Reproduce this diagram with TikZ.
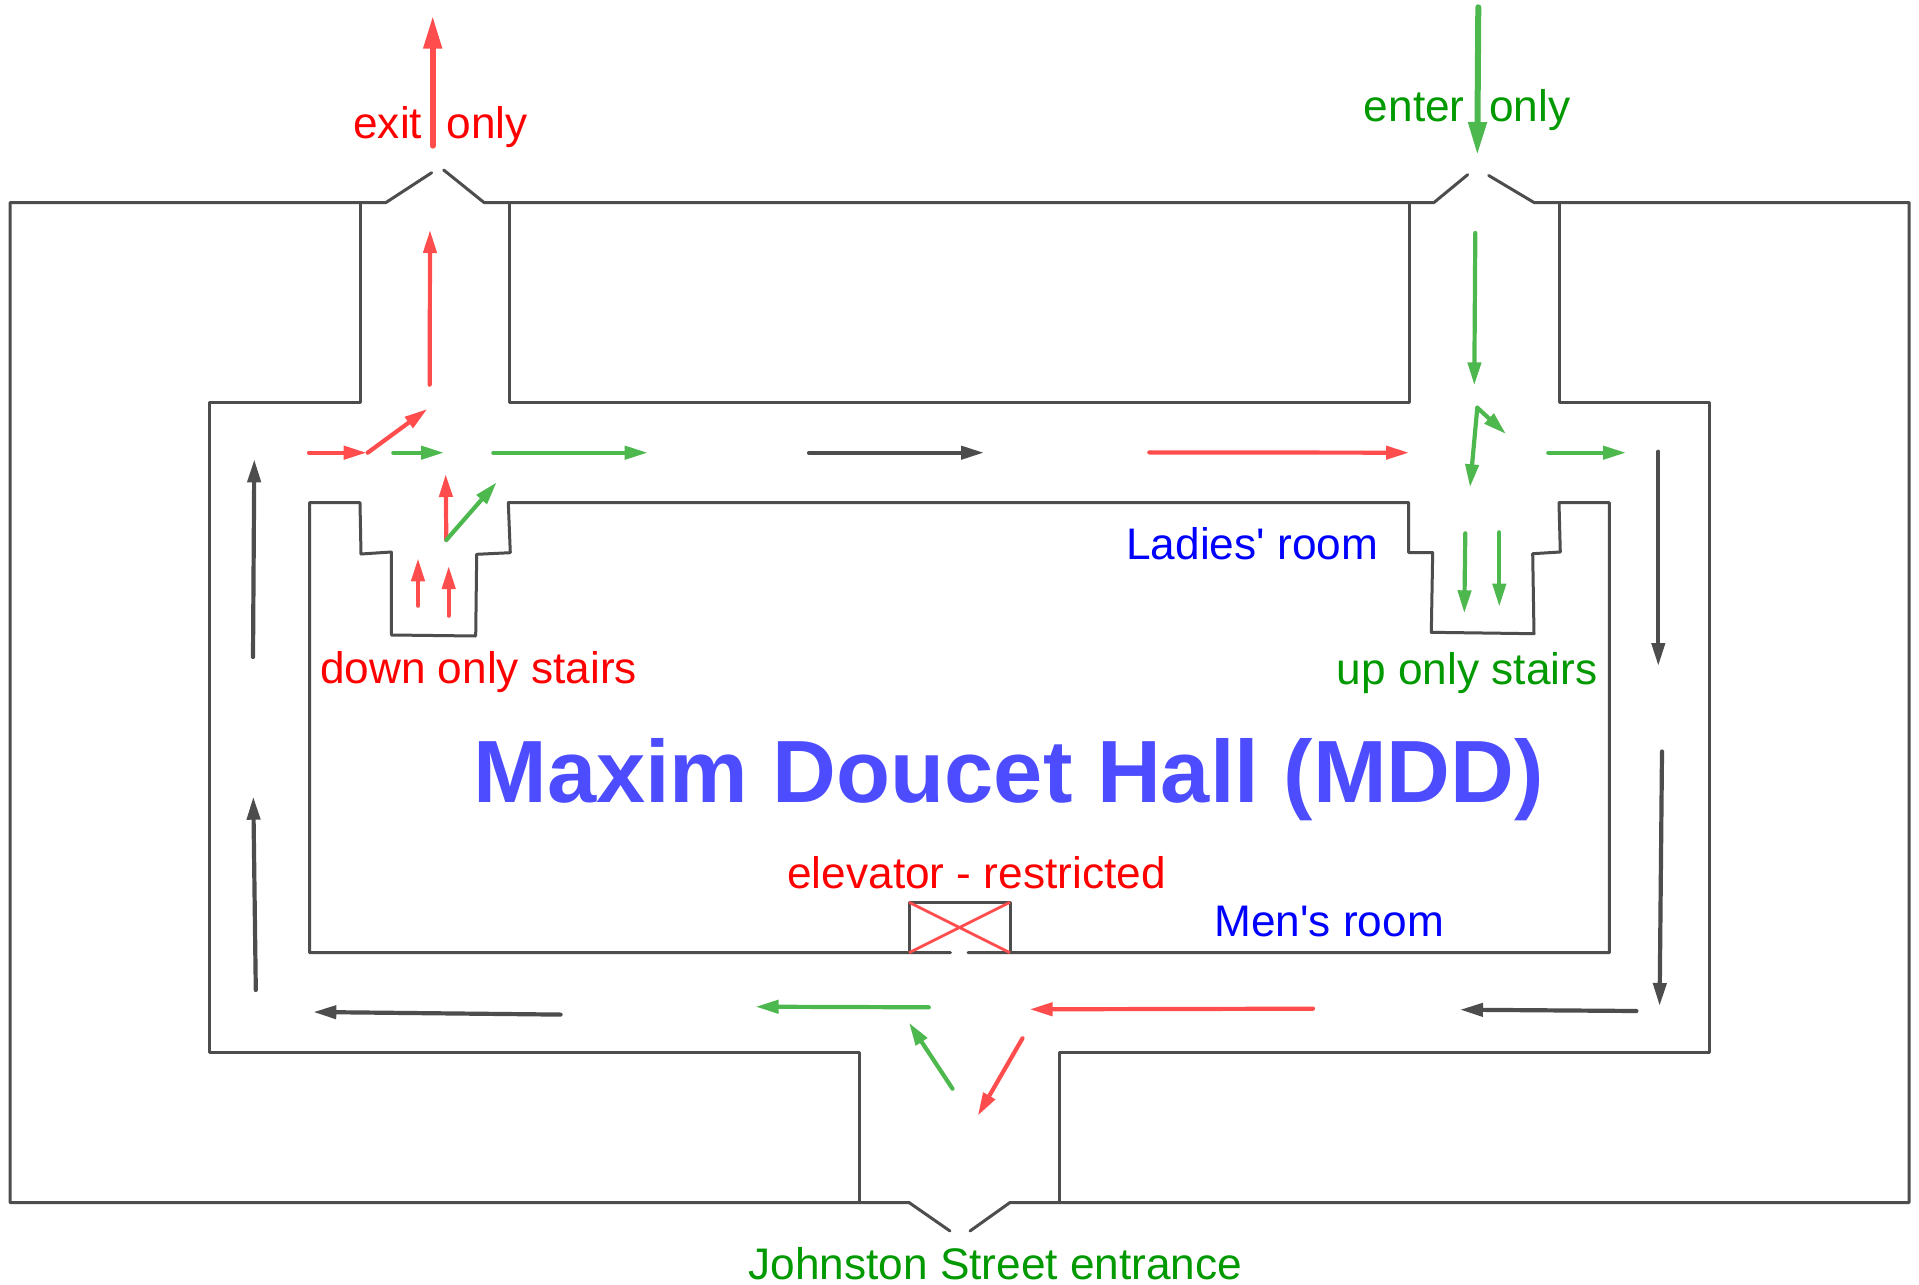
\documentclass[tikz,border=0pt]{standalone}
\usepackage{fontspec}
\setmainfont{Liberation Sans}
\usetikzlibrary{arrows.meta}
\definecolor{wallc}{HTML}{4D4D4D}
\definecolor{redar}{HTML}{FF4D4D}
\definecolor{greenar}{HTML}{4DB84D}
\definecolor{redtx}{HTML}{FF0000}
\definecolor{greentx}{HTML}{009900}
\definecolor{bluetx}{HTML}{0000FF}
\definecolor{titletx}{HTML}{4D4DFF}
\tikzset{
  wall/.style={draw=wallc,line width=1.5pt,line join=round,line cap=round},
  small/.style={line width=2.1pt,line cap=round,-{Triangle[length=11.5pt,width=6.5pt]}},
  big/.style={line width=3pt,line cap=round,-{Triangle[length=16.5pt,width=8.8pt]}},
  lbl/.style={anchor=base west,inner sep=0pt,font=\fontsize{22.1}{26}\selectfont},
}
\begin{document}
\begin{tikzpicture}[x=0.5pt,y=-0.5pt]
\useasboundingbox[fill=white] (0,0) rectangle (1919,1285);
% outer walls
\draw[wall] (431.7,172.7) -- (386,202.5) -- (10,202.5) -- (10,1202.5) -- (909,1202.5) -- (950,1231);
\draw[wall] (970,1231) -- (1010,1202.5) -- (1909,1202.5) -- (1909,202.5) -- (1534,202.5) -- (1488.7,175.5);
\draw[wall] (1467.7,174.7) -- (1434,202.5) -- (484,202.5) -- (443.7,170);
% corridor outer walls
\draw[wall] (360,202.5) -- (360,402.7) -- (209.5,402.7) -- (209.5,1052.5) -- (859.5,1052.5) -- (859.5,1202.5);
\draw[wall] (1059,1202.5) -- (1059,1052.5) -- (1709,1052.5) -- (1709,402.7) -- (1559,402.7) -- (1559,202.5);
\draw[wall] (509.7,202.5) -- (509.7,402.7) -- (1409,402.7) -- (1409,202.5);
% inner walls
\draw[wall] (950.5,952.7) -- (309.5,952.7) -- (309.5,502.7) -- (360,502.7) -- (361,554) -- (391.3,552) -- (391.5,635) -- (475.7,636) -- (476.7,554.3) -- (510.3,552.7) -- (508.3,502.7) -- (1408.7,502.7) -- (1408.7,552.7) -- (1432.7,552.7) -- (1431.3,632.3) -- (1534,633.7) -- (1532.7,553.7) -- (1560.3,552) -- (1559,502.7) -- (1609.3,502.7) -- (1609.3,952.7) -- (968,952.7);
% elevator
\draw[wall] (909,952.7) -- (909,902.3) -- (1010,902.3) -- (1010,952.7);
\draw[redar,line width=1.4pt] (909,902.3) -- (1010,952.7) (909,952.7) -- (1010,902.3);
% red arrows
\draw[redar,big] (432.7,145.7) -- (432.7,15.7);
\draw[redar,small] (429.7,384.7) -- (430,230);
\draw[redar,small] (309,452.7) -- (366.7,452.7);
\draw[redar,small] (367.7,452.7) -- (427.3,409);
\draw[redar,small] (446.3,540) -- (445.7,474);
\draw[redar,small] (418,605.7) -- (418,558.3);
\draw[redar,small] (448.7,615.7) -- (448.7,566);
\draw[redar,small] (1149.3,452.4) -- (1409,452.7);
\draw[redar,small] (1313,1008.7) -- (1029.6,1009.3);
\draw[redar,small] (1022.5,1038.3) -- (977.8,1115.7);
% green arrows
\draw[greenar,big] (1478.3,7.3) -- (1477.3,155);
\draw[greenar,small] (1475.3,233) -- (1474.3,385.3);
\draw[greenar,small] (393.3,452.7) -- (444,452.7);
\draw[greenar,small] (493.3,452.7) -- (647.7,452.7);
\draw[greenar,small] (446.3,540) -- (496.7,482.3);
\draw[greenar,small] (1477.3,407.7) -- (1470,487.3);
\draw[greenar,small] (1477.3,407.7) -- (1506,434);
\draw[greenar,small] (1548.3,452.7) -- (1626,452.7);
\draw[greenar,small] (1465.3,533.3) -- (1464.3,613.3);
\draw[greenar,small] (1499.3,532.3) -- (1499.3,606.7);
\draw[greenar,small] (928.8,1007.3) -- (755.6,1006.7);
\draw[greenar,small] (952.5,1088.7) -- (909,1022.7);
% dark arrows
\draw[wallc,small] (253,657) -- (254.3,459.3);
\draw[wallc,small] (255.8,990) -- (253.3,796.7);
\draw[wallc,small] (809,452.7) -- (984,452.7);
\draw[wallc,small] (1658.3,451.7) -- (1658.3,666);
\draw[wallc,small] (1662,751.5) -- (1659.6,1006);
\draw[wallc,small] (1636.4,1011) -- (1460,1009.7);
\draw[wallc,small] (560.6,1014.6) -- (313.3,1012);
% labels
\node[lbl,text=redtx] (exitlbl) at (353,138) {exit\ \ only};
\node[lbl,text=greentx] (enterlbl) at (1363.5,121) {enter\ \ only};
\node[lbl,text=redtx] (downlbl) at (319.7,683.7) {down only stairs};
\node[lbl,text=greentx] (uplbl) at (1336.5,684) {up only stairs};
\node[lbl,text=bluetx] (ladieslbl) at (1126,559) {Ladies\textquotesingle\ room};
\node[lbl,text=bluetx] (menlbl) at (1214,936) {Men\textquotesingle s room};
\node[lbl,text=redtx] (elevlbl) at (787,888) {elevator - restricted};
\node[lbl,text=greentx] (johnlbl) at (748,1279) {Johnston Street entrance};
\node[anchor=base west,inner sep=0pt,text=titletx,font=\fontsize{44.2}{50}\selectfont\bfseries] (titlelbl) at (473,802) {Maxim Doucet Hall (MDD)};
\end{tikzpicture}
\end{document}
